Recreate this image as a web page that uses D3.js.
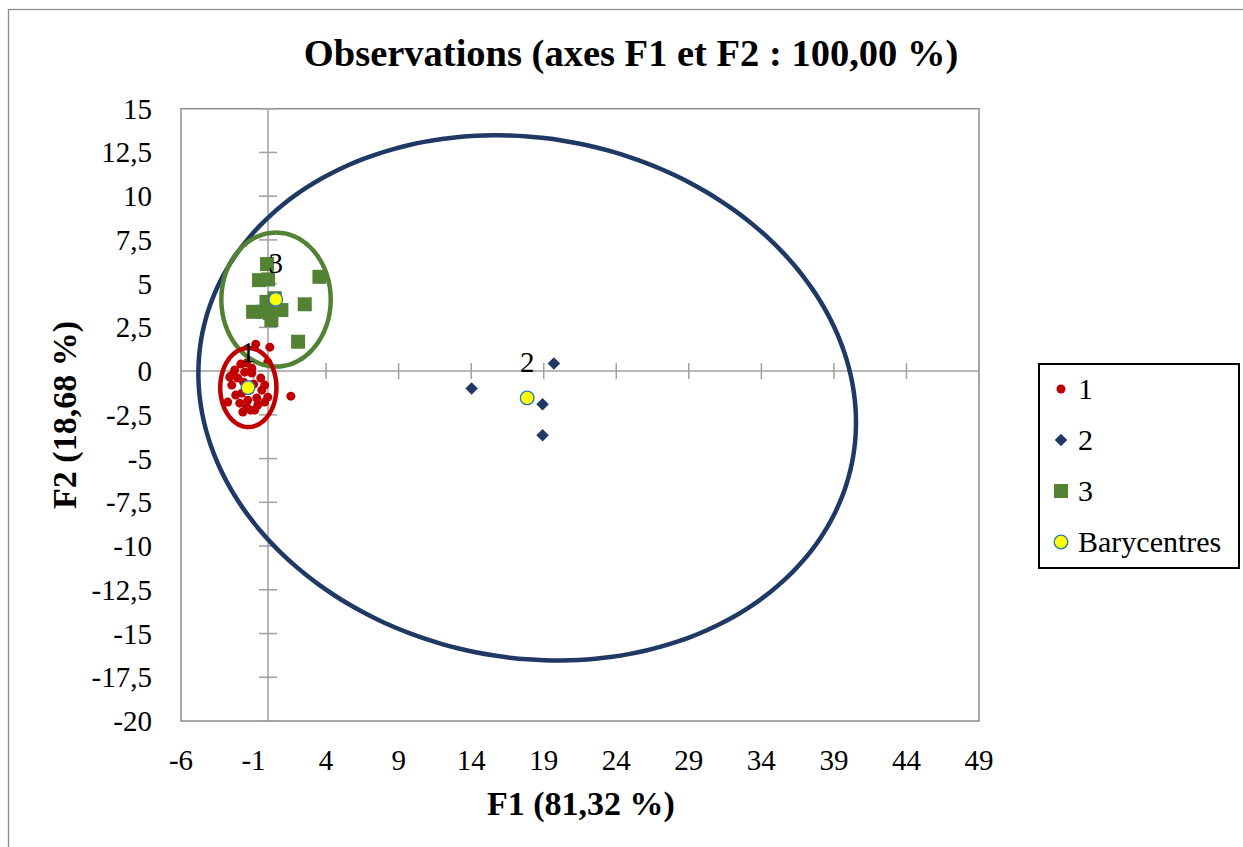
<!DOCTYPE html>
<html>
<head>
<meta charset="utf-8">
<script src="https://cdn.jsdelivr.net/npm/d3@7"></script>
<style>
  body { margin: 0; background: #fff; }
  svg text { font-family: "Liberation Serif", "Times New Roman", serif; fill: #000; }
</style>
</head>
<body>
<script>
// cluster 1 (red dots) : F1, F2
var cluster1 = [
  [-0.85, 1.54], [0.12, 1.37], [-0.02, 0.51], [-1.88, 0.40], [-1.47, 0.46],
  [-1.12, 0.17], [-2.30, 0.06], [-1.61, -0.06], [-2.50, -0.23], [-1.12, -0.11],
  [-2.64, -0.34], [-2.09, -0.40], [-0.50, -0.40], [-2.50, -0.80], [-0.23, -0.80],
  [-1.68, -0.63], [-0.43, -1.09], [-1.81, -1.26], [-0.02, -1.49], [-0.78, -1.54],
  [-2.78, -1.77], [-1.40, -1.66], [-1.95, -1.83], [-0.23, -1.77], [-1.47, -2.06],
  [-0.71, -1.94], [-0.92, -2.23], [-1.74, -2.34], [-1.19, -2.23], [1.57, -1.43],
  [-1.26, -1.09], [-2.23, -1.37], [-0.99, -0.74], [-1.54, -0.97]
];
// cluster 2 (blue diamonds)
var cluster2 = [[14.03, -0.99], [19.7, 0.44], [18.92, -1.89], [18.92, -3.66]];
// cluster 3 (green squares)
var cluster3 = [
  [-0.07, 6.12], [-0.62, 5.2], [0.0, 5.24], [3.54, 5.39], [2.53, 3.82],
  [-1.03, 3.39], [-0.11, 3.96], [0.92, 3.49], [0.23, 2.92], [2.07, 1.68],
  [-0.34, 3.39], [0.46, 4.17], [0.12, 3.32]
];
// barycentres
var barycentres = [
  {label: "1", x: -1.38, y: -0.94},
  {label: "2", x: 17.86, y: -1.53},
  {label: "3", x: 0.53, y: 4.1}
];
// ellipses: centre + quadratic form (data units)
var ellipses = [
  {cluster: "2", cx: 17.86, cy: -1.53, qxx: 513.6, qyy: 225.3, qxy: -31.74},
  {cluster: "3", cx: 0.55, cy: 4.09, qxx: 14.2, qyy: 14.67, qxy: 0},
  {cluster: "1", cx: -1.36, cy: -0.94, qxx: 3.75, qyy: 5.11, qxy: 0}
];
var xTicks = d3.range(-6, 50, 5);
var yTicks = d3.range(-20, 15.1, 2.5);
var legendItems = ["1", "2", "3", "Barycentres"];

var colors = {"1": "#C00000", "2": "#1F3864", "3": "#548235"};

var W = 1243, H = 847;
var margin = {left: 181, right: 1243 - 979, top: 108.7, bottom: 847 - 721};

var svg = d3.select("body").append("svg")
    .attr("width", W)
    .attr("height", H);

// outer chart border
svg.append("rect")
    .attr("x", 8.5).attr("y", 9.5)
    .attr("width", W).attr("height", H)
    .attr("fill", "none")
    .attr("stroke", "#8c8c8c")
    .attr("stroke-width", 1.3);

var xScale = d3.scaleLinear().domain([-6, 49]).range([margin.left, W - margin.right]);
var yScale = d3.scaleLinear().domain([-20, 15]).range([H - margin.bottom, margin.top]);

var fr = d3.formatLocale({decimal: ",", thousands: " ", grouping: [3], currency: ["", "€"], minus: "-"});
var fmt = fr.format("~g");

// plot area frame
svg.append("rect")
    .attr("x", xScale(-6)).attr("y", yScale(15))
    .attr("width", xScale(49) - xScale(-6))
    .attr("height", yScale(-20) - yScale(15))
    .attr("fill", "none")
    .attr("stroke", "#8c8c8c")
    .attr("stroke-width", 1.5);

// zero lines
svg.append("line")
    .attr("x1", xScale(-6)).attr("x2", xScale(49))
    .attr("y1", yScale(0)).attr("y2", yScale(0))
    .attr("stroke", "#a0a0a0").attr("stroke-width", 1.5);
svg.append("line")
    .attr("x1", xScale(0)).attr("x2", xScale(0))
    .attr("y1", yScale(15)).attr("y2", yScale(-20))
    .attr("stroke", "#a0a0a0").attr("stroke-width", 1.5);

// cross ticks on zero lines
svg.selectAll(".xt").data(xTicks).enter().append("line")
    .attr("class", "xt")
    .attr("x1", function(d) { return xScale(d); })
    .attr("x2", function(d) { return xScale(d); })
    .attr("y1", yScale(0) - 8).attr("y2", yScale(0) + 8)
    .attr("stroke", "#a0a0a0").attr("stroke-width", 1.5);
svg.selectAll(".yt").data(yTicks).enter().append("line")
    .attr("class", "yt")
    .attr("x1", xScale(0) - 9).attr("x2", xScale(0) + 9)
    .attr("y1", function(d) { return yScale(d); })
    .attr("y2", function(d) { return yScale(d); })
    .attr("stroke", "#a0a0a0").attr("stroke-width", 1.5);

// tick labels
svg.selectAll(".xl").data(xTicks).enter().append("text")
    .attr("class", "xl")
    .attr("x", function(d) { return xScale(d); })
    .attr("y", 770)
    .attr("text-anchor", "middle")
    .style("font-size", "29px")
    .text(function(d) { return fmt(d); });
svg.selectAll(".yl").data(yTicks).enter().append("text")
    .attr("class", "yl")
    .attr("x", 152)
    .attr("y", function(d) { return yScale(d) + 10; })
    .attr("text-anchor", "end")
    .style("font-size", "29px")
    .text(function(d) { return fmt(d); });

// points
svg.selectAll(".p1").data(cluster1).enter().append("circle")
    .attr("class", "p1")
    .attr("cx", function(d) { return xScale(d[0]); })
    .attr("cy", function(d) { return yScale(d[1]); })
    .attr("r", 4.5)
    .attr("fill", colors["1"]);
svg.selectAll(".p2").data(cluster2).enter().append("path")
    .attr("class", "p2")
    .attr("d", d3.symbol(d3.symbolDiamond2, 100))
    .attr("transform", function(d) { return "translate(" + xScale(d[0]) + "," + yScale(d[1]) + ")"; })
    .attr("fill", colors["2"]);
svg.selectAll(".p3").data(cluster3).enter().append("rect")
    .attr("class", "p3")
    .attr("x", function(d) { return xScale(d[0]) - 7; })
    .attr("y", function(d) { return yScale(d[1]) - 7; })
    .attr("width", 14).attr("height", 14)
    .attr("fill", colors["3"]);

// ellipses
var line = d3.line()
    .x(function(p) { return xScale(p[0]); })
    .y(function(p) { return yScale(p[1]); })
    .curve(d3.curveCardinalClosed);
function ellipsePts(e) {
  var l11 = Math.sqrt(e.qxx), l21 = e.qxy / l11, l22 = Math.sqrt(e.qyy - l21 * l21);
  return d3.range(0, 360, 3).map(function(a) {
    var t = a * Math.PI / 180;
    return [e.cx + l11 * Math.cos(t), e.cy + l21 * Math.cos(t) + l22 * Math.sin(t)];
  });
}
svg.selectAll(".ell").data(ellipses).enter().append("path")
    .attr("class", "ell")
    .attr("d", function(e) { return line(ellipsePts(e)); })
    .attr("fill", "none")
    .attr("stroke", function(e) { return colors[e.cluster]; })
    .attr("stroke-width", 4.5);

// barycentres
svg.selectAll(".bary").data(barycentres).enter().append("circle")
    .attr("class", "bary")
    .attr("cx", function(d) { return xScale(d.x); })
    .attr("cy", function(d) { return yScale(d.y); })
    .attr("r", 6.8)
    .attr("fill", "#FFFF00")
    .attr("stroke", "#2E75B6")
    .attr("stroke-width", 1.3);
svg.selectAll(".blab").data(barycentres).enter().append("text")
    .attr("class", "blab")
    .attr("x", function(d) { return xScale(d.x); })
    .attr("y", function(d) { return yScale(d.y) - 26; })
    .attr("text-anchor", "middle")
    .style("font-size", "29px")
    .text(function(d) { return d.label; });

// title and axis titles
svg.append("text")
    .attr("x", 631).attr("y", 66)
    .attr("text-anchor", "middle")
    .style("font-size", "38.5px").style("font-weight", "bold")
    .text("Observations (axes F1 et F2 : 100,00 %)");
svg.append("text")
    .attr("x", 581).attr("y", 815)
    .attr("text-anchor", "middle")
    .style("font-size", "34px").style("font-weight", "bold")
    .text("F1 (81,32 %)");
svg.append("text")
    .attr("transform", "translate(76,415) rotate(-90)")
    .attr("text-anchor", "middle")
    .style("font-size", "34px").style("font-weight", "bold")
    .text("F2 (18,68 %)");

// legend
var lg = svg.append("g");
lg.append("rect")
    .attr("x", 1039).attr("y", 364)
    .attr("width", 200).attr("height", 204)
    .attr("fill", "#fff")
    .attr("stroke", "#000")
    .attr("stroke-width", 2);
var rows = lg.selectAll(".row").data(legendItems).enter().append("g")
    .attr("class", "row")
    .attr("transform", function(d, i) { return "translate(1061," + (389 + i * 51) + ")"; });
rows.each(function(d) {
  var g = d3.select(this);
  if (d === "1") g.append("circle").attr("r", 4.5).attr("fill", colors["1"]);
  else if (d === "2") g.append("path").attr("d", d3.symbol(d3.symbolDiamond2, 100)).attr("fill", colors["2"]);
  else if (d === "3") g.append("rect").attr("x", -7).attr("y", -7).attr("width", 14).attr("height", 14).attr("fill", colors["3"]);
  else g.append("circle").attr("r", 6.8).attr("fill", "#FFFF00").attr("stroke", "#2E75B6").attr("stroke-width", 1.3);
});
rows.append("text")
    .attr("x", 17).attr("y", 10)
    .style("font-size", "30px")
    .text(function(d) { return d; });
</script>
</body>
</html>
